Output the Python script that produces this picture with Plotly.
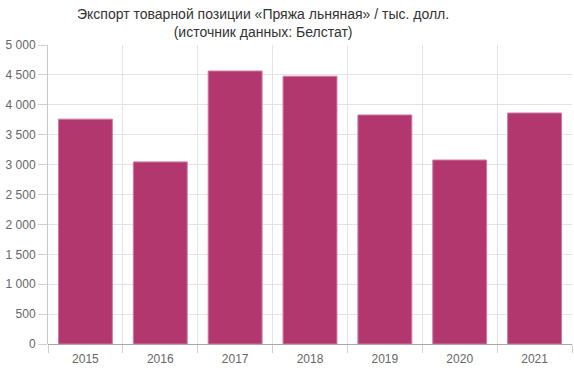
import plotly.graph_objects as go

years = ["2015", "2016", "2017", "2018", "2019", "2020", "2021"]
values = [3760, 3045, 4565, 4478, 3830, 3077, 3863]
y_ticks = [0, 500, 1000, 1500, 2000, 2500, 3000, 3500, 4000, 4500, 5000]

fig = go.Figure(go.Bar(
    x=years, y=values,
    marker=dict(color="#b2376f", line=dict(color="#d07aa3", width=1)),
    hoverinfo="x+y",
))

L, R, T, B = 48, 2, 45, 31
W, H = 574, 375
pw, ph = W - L - R, H - T - B

fig.update_layout(
    width=W, height=H,
    margin=dict(l=L, r=R, t=T, b=B, autoexpand=False),
    paper_bgcolor="white", plot_bgcolor="white",
    separators=". ",
    bargap=0.28,
    showlegend=False,
    font=dict(family="Liberation Sans, Arial, sans-serif", color="#666", size=12),
    xaxis=dict(
        type="category",
        tickson="boundaries",
        showgrid=True, gridcolor="#e3e3e3", gridwidth=1,
        ticks="outside", ticklen=8, tickcolor="#d0d0d0",
        ticklabelstandoff=6,
        showline=False, automargin=False,
        tickfont=dict(size=12, color="#666"),
    ),
    yaxis=dict(
        range=[0, 5000],
        tickvals=y_ticks,
        tickformat=",d",
        showgrid=True, gridcolor="#e3e3e3", gridwidth=1,
        ticks="outside", ticklen=9, tickcolor="#d0d0d0",
        showline=True, linecolor="#c8c8c8", linewidth=1,
        zeroline=True, zerolinecolor="#a8a8a8", zerolinewidth=1,
        automargin=False,
        tickfont=dict(size=12, color="#666"),
    ),
    annotations=[dict(
        text="Экспорт товарной позиции «Пряжа льняная» / тыс. долл.<br>(источник данных: Белстат)",
        xref="paper", yref="paper",
        x=(263 - L) / pw, y=(H - B - 23) / ph,
        xanchor="center", yanchor="middle",
        showarrow=False,
        font=dict(family="Liberation Sans, Arial, sans-serif", size=14, color="#333"),
    )],
)

fig.write_html(
    "out.html",
    config={"displayModeBar": False},
    post_script="document.body.style.margin='0';document.body.style.overflow='hidden';",
)
